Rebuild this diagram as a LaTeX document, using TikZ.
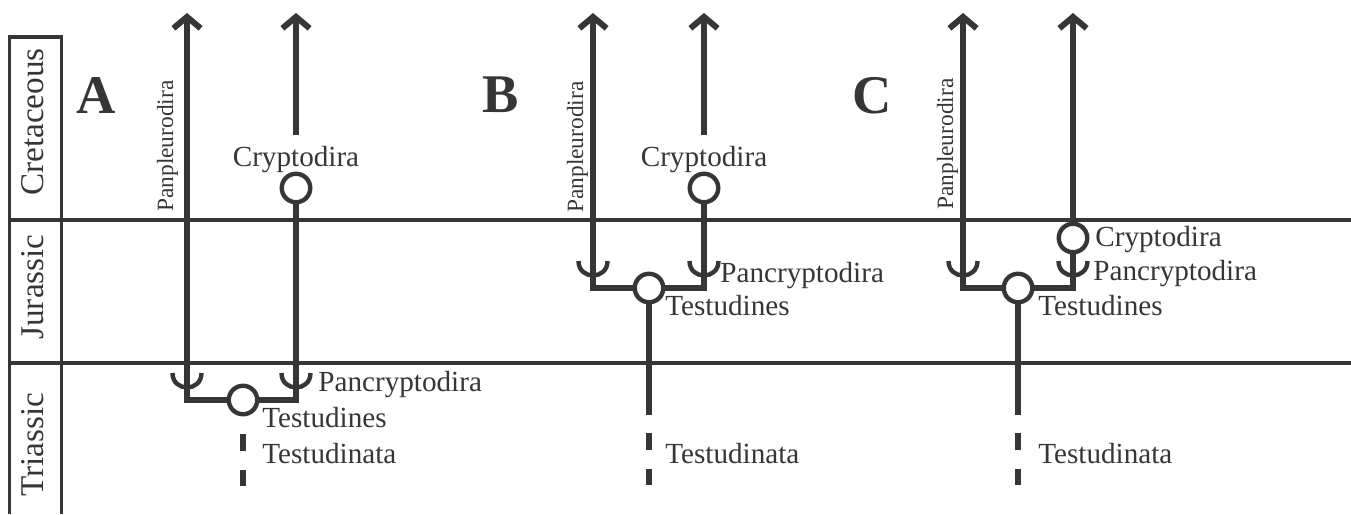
\documentclass[tikz,border=0pt]{standalone}
\usepackage{fontspec}
\setmainfont{Liberation Serif}
\usetikzlibrary{arrows.meta}
\definecolor{ink}{gray}{0.21}
\begin{document}
\begin{tikzpicture}[x=0.02cm,y=-0.02cm,
  branch/.style={draw=ink,line width=3.4pt,line join=miter,line cap=butt},
  uparrow/.style={-{Straight Barb[length=6.5pt,width=15.5pt]}},
  dashes/.style={branch,line width=3.8pt,dash pattern=on 9.4pt off 11pt},
  crown/.style={circle,draw=ink,fill=white,line width=2.5pt,minimum size=0.57cm,inner sep=0pt},
  arcmark/.style={draw=ink,line width=2.5pt},
  frame/.style={draw=ink,line width=2pt},
  lab/.style={inner sep=0pt,anchor=base west,text=ink,font=\fontsize{16.6}{18}\selectfont},
  clab/.style={lab,anchor=base},
  vlab/.style={inner sep=0pt,anchor=base west,rotate=90,text=ink,font=\fontsize{13.3}{15}\selectfont},
  era/.style={inner sep=0pt,anchor=base,rotate=90,text=ink,font=\fontsize{18.9}{20}\selectfont},
  panel/.style={inner sep=0pt,anchor=base,text=ink,font=\bfseries\fontsize{31}{33}\selectfont},
  pics/cup/.style={code={\draw[arcmark] (-14.5,0) .. controls (-14.5,19.3) and (14.5,19.3) .. (14.5,0);}}
]
\useasboundingbox (0,0) rectangle (1351,514);

% time scale frame
\coordinate (fTL) at (9.5,37);
\coordinate (fTR) at (61.5,37);
\coordinate (fBL) at (9.5,514);
\coordinate (fBR) at (61.5,514);
\draw[frame] (fBL) -- (fTL) -- (fTR) -- (fBR);
\coordinate (h1a) at (9.5,220);
\coordinate (h1b) at (1351,220);
\coordinate (h2a) at (9.5,363);
\coordinate (h2b) at (1351,363);
\draw[frame] (h1a) -- (h1b);
\draw[frame] (h2a) -- (h2b);
\node[era] (eC) at (43,122) {Cretaceous};
\node[era] (eJ) at (43,287) {Jurassic};
\node[era] (eT) at (43,445) {Triassic};

% panel letters
\node[panel] (pA) at (96,113) {A};
\node[panel] (pB) at (501,112) {B};
\node[panel] (pC) at (872,113) {C};

% ---------- Panel A ----------
\node[crown] (tA) at (243,400) {};
\node[crown] (kA) at (296,188) {};
\coordinate (aLA) at (187,13);
\coordinate (aRA) at (296,13);
\coordinate (sRA) at (296,135);
\draw[branch,uparrow] (tA.west) -| (aLA);
\draw[branch] (tA.east) -| (kA.south);
\draw[branch,uparrow] (sRA) -- (aRA);
\pic at (187,373) {cup};
\pic at (296,373) {cup};
\coordinate (dA1) at (243,434);
\coordinate (dA2) at (243,488);
\draw[dashes] (dA1) -- (dA2);
\node[clab] (cryA) at (296,166) {Cryptodira};
\node[lab] (panA) at (318,391) {Pancryptodira};
\node[lab] (tesA) at (262,427) {Testudines};
\node[lab] (tstA) at (262,463) {Testudinata};
\node[vlab] (pplA) at (173,212) {Panpleurodira};

% ---------- Panel B ----------
\node[crown] (tB) at (649,288) {};
\node[crown] (kB) at (704,188) {};
\coordinate (aLB) at (593,13);
\coordinate (aRB) at (704,13);
\coordinate (sRB) at (704,135);
\coordinate (sDB) at (649,415);
\draw[branch,uparrow] (tB.west) -| (aLB);
\draw[branch] (tB.east) -| (kB.south);
\draw[branch,uparrow] (sRB) -- (aRB);
\draw[branch] (tB.south) -- (sDB);
\pic at (593,261) {cup};
\pic at (704,261) {cup};
\coordinate (dB1) at (649,433);
\coordinate (dB2) at (649,488);
\draw[dashes] (dB1) -- (dB2);
\node[clab] (cryB) at (704,166) {Cryptodira};
\node[lab] (panB) at (720,282) {Pancryptodira};
\node[lab] (tesB) at (665,315) {Testudines};
\node[lab] (tstB) at (665,463) {Testudinata};
\node[vlab] (pplB) at (583,213) {Panpleurodira};

% ---------- Panel C ----------
\node[crown] (tC) at (1018,288) {};
\node[crown] (kC) at (1073,238) {};
\coordinate (aLC) at (963,13);
\coordinate (aRC) at (1073,13);
\coordinate (sDC) at (1018,415);
\draw[branch,uparrow] (tC.west) -| (aLC);
\draw[branch] (tC.east) -| (kC.south);
\draw[branch,uparrow] (kC.north) -- (aRC);
\draw[branch] (tC.south) -- (sDC);
\pic at (963,261) {cup};
\pic at (1073,261) {cup};
\coordinate (dC1) at (1018,433);
\coordinate (dC2) at (1018,488);
\draw[dashes] (dC1) -- (dC2);
\node[lab] (cryC) at (1095,246) {Cryptodira};
\node[lab] (panC) at (1093,280) {Pancryptodira};
\node[lab] (tesC) at (1038,315) {Testudines};
\node[lab] (tstC) at (1038,463) {Testudinata};
\node[vlab] (pplC) at (953,210) {Panpleurodira};
\end{tikzpicture}
\end{document}
